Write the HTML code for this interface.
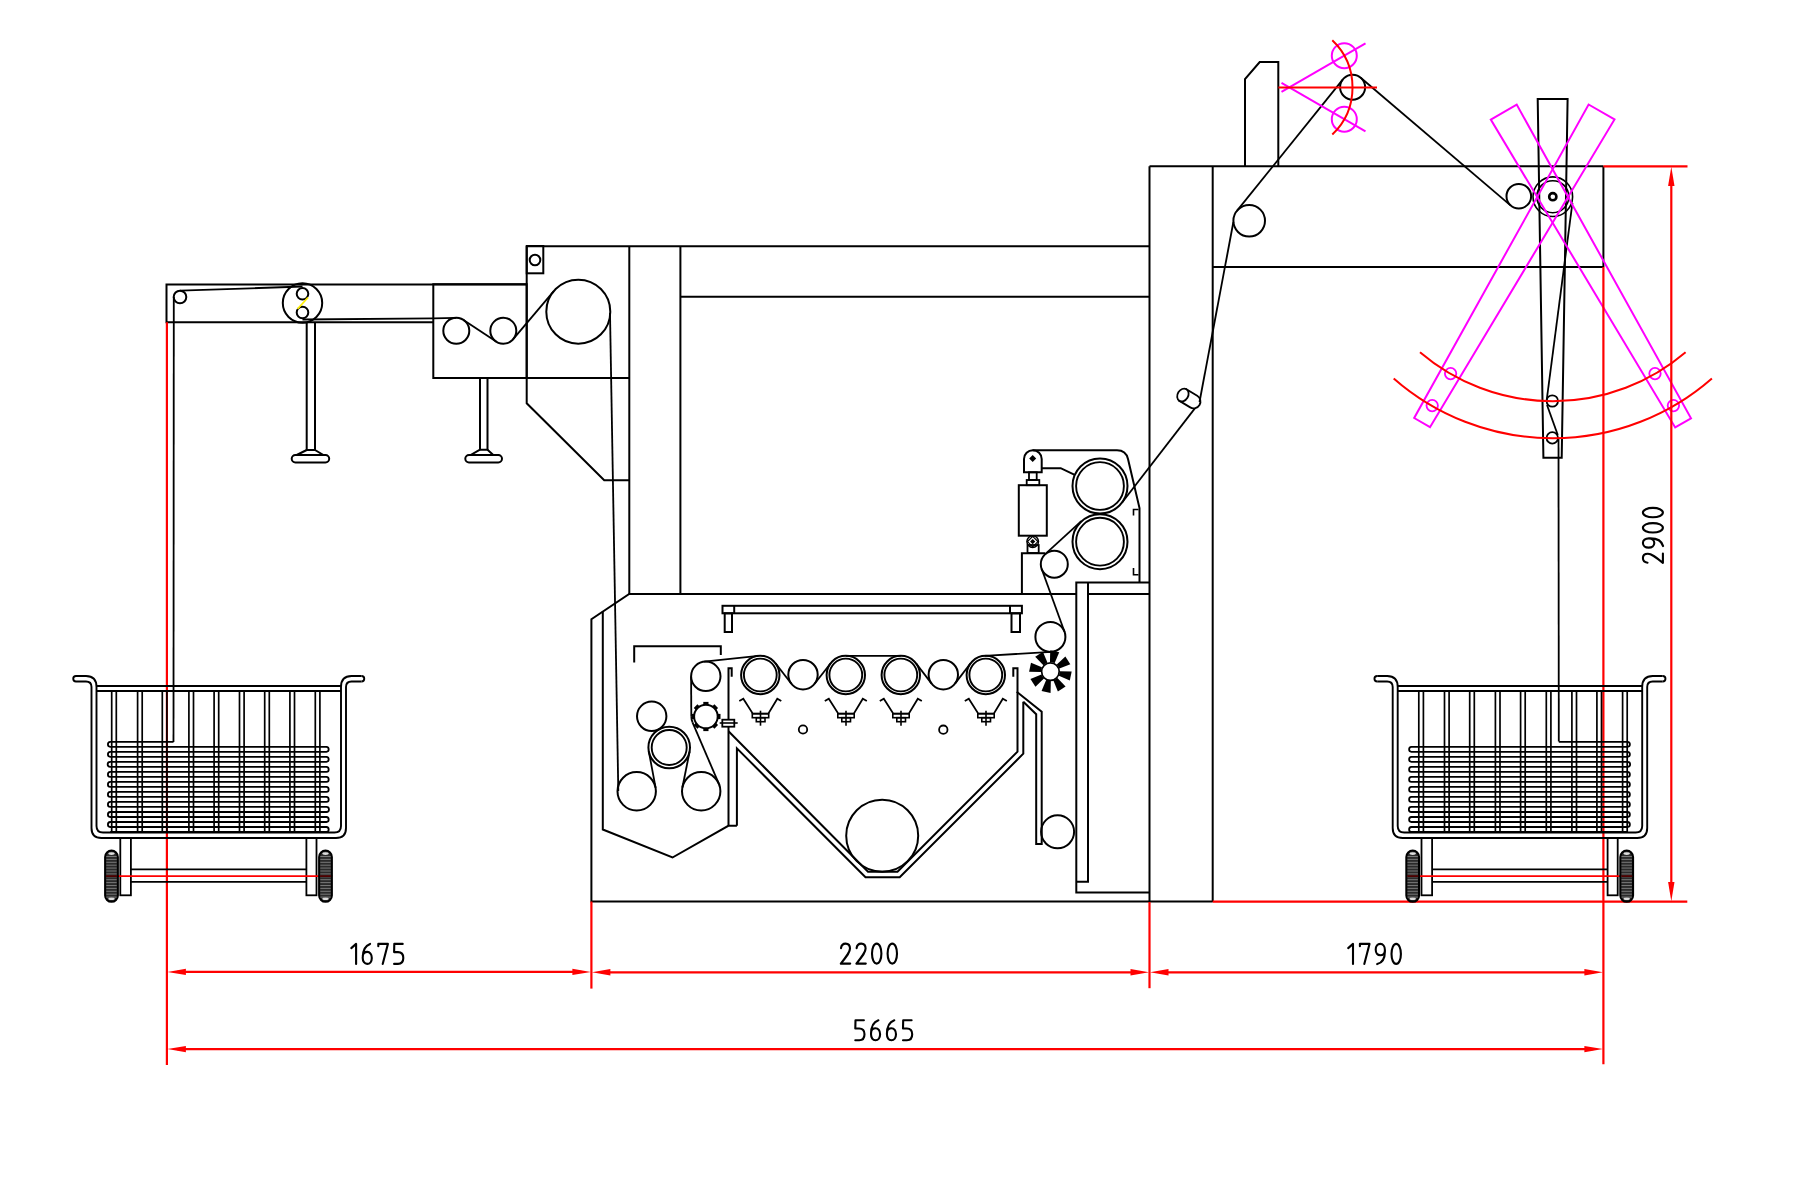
<!DOCTYPE html>
<html><head><meta charset="utf-8"><style>
html,body{margin:0;padding:0;background:#fff;width:1800px;height:1200px;overflow:hidden}
svg{display:block}
</style></head><body>
<svg width="1800" height="1200" viewBox="0 0 1800 1200" stroke-linecap="butt">
<defs><filter id="bl" x="0" y="0" width="1800" height="1200" filterUnits="userSpaceOnUse"><feGaussianBlur stdDeviation="0.5"/></filter></defs>
<rect width="1800" height="1200" fill="#fff"/>
<g filter="url(#bl)">
<path d="M433.3,322.3 L166.5,322.3 L166.5,284.5 L526.7,284.5" stroke="#000" stroke-width="2" fill="none" stroke-linejoin="miter"/>
<circle cx="180.0" cy="297.0" r="6.3" stroke="#000" stroke-width="2" fill="none"/>
<line x1="180.0" y1="290.7" x2="302.5" y2="286.5" stroke="#000" stroke-width="1.8"/>
<line x1="173.8" y1="297.0" x2="173.5" y2="742.0" stroke="#000" stroke-width="1.8"/>
<circle cx="302.5" cy="303.0" r="19.7" stroke="#000" stroke-width="2" fill="none"/>
<circle cx="302.5" cy="293.8" r="5.8" stroke="#000" stroke-width="2" fill="none"/>
<circle cx="302.5" cy="312.5" r="5.8" stroke="#000" stroke-width="2" fill="none"/>
<line x1="297.5" y1="309.0" x2="308.0" y2="297.5" stroke="#ffee00" stroke-width="1.8"/>
<line x1="302.5" y1="319.5" x2="433.3" y2="318.3" stroke="#000" stroke-width="1.8"/>
<path d="M306.7,322.3 L306.7,450.0 L315.0,450.0 L315.0,322.3" stroke="#000" stroke-width="2" fill="none" stroke-linejoin="miter"/>
<path d="M306.7,450.0 L296.7,455.0 L323.3,455.0 L315.0,450.0" stroke="#000" stroke-width="2" fill="none" stroke-linejoin="miter"/>
<rect x="291.7" y="455" width="37.5" height="7.5" rx="3.7" stroke="#000" stroke-width="2" fill="none"/>

<rect x="433.3" y="284.2" width="93.4" height="93.8" stroke="#000" stroke-width="2" fill="none"/>
<circle cx="456.3" cy="330.8" r="13.0" stroke="#000" stroke-width="2" fill="none"/>
<circle cx="503.3" cy="330.8" r="13.0" stroke="#000" stroke-width="2" fill="none"/>
<line x1="433.3" y1="318.3" x2="456.3" y2="317.8" stroke="#000" stroke-width="1.8"/>
<line x1="463.5" y1="320.0" x2="496.1" y2="341.6" stroke="#000" stroke-width="1.8"/>
<line x1="513.2" y1="339.2" x2="553.8" y2="291.1" stroke="#000" stroke-width="1.8"/>
<path d="M480.0,378.0 L480.0,449.7 L487.5,449.7 L487.5,378.0" stroke="#000" stroke-width="2" fill="none" stroke-linejoin="miter"/>
<path d="M480.0,449.7 L470.8,455.0 L493.3,455.0 L487.5,449.7" stroke="#000" stroke-width="2" fill="none" stroke-linejoin="miter"/>
<rect x="465.3" y="455" width="36.7" height="7.5" rx="3.7" stroke="#000" stroke-width="2" fill="none"/>
<line x1="526.7" y1="246.3" x2="1149.5" y2="246.3" stroke="#000" stroke-width="2"/>
<path d="M526.7,246.0 L526.7,403.3 L604.2,480.3 L629.5,480.3" stroke="#000" stroke-width="2" fill="none" stroke-linejoin="miter"/>
<line x1="433.3" y1="378.0" x2="629.5" y2="378.0" stroke="#000" stroke-width="2"/>
<rect x="526.7" y="246.0" width="16.6" height="27.3" stroke="#000" stroke-width="2" fill="none"/>
<circle cx="535.0" cy="260.0" r="5.3" stroke="#000" stroke-width="2" fill="none"/>
<circle cx="578.3" cy="311.7" r="32.0" stroke="#000" stroke-width="2" fill="none"/>
<line x1="610.0" y1="313.0" x2="618.3" y2="791.0" stroke="#000" stroke-width="1.8"/>
<line x1="629.3" y1="246.0" x2="629.3" y2="594.0" stroke="#000" stroke-width="2"/>
<line x1="680.4" y1="246.3" x2="680.4" y2="594.0" stroke="#000" stroke-width="2"/>
<line x1="680.0" y1="296.7" x2="1149.3" y2="296.7" stroke="#000" stroke-width="2"/>
<line x1="1149.5" y1="166.3" x2="1149.5" y2="902.0" stroke="#000" stroke-width="2"/>
<line x1="1212.7" y1="166.3" x2="1212.7" y2="902.0" stroke="#000" stroke-width="2"/>
<line x1="1149.5" y1="166.3" x2="1603.4" y2="166.3" stroke="#000" stroke-width="2"/>
<line x1="1212.7" y1="267.0" x2="1603.4" y2="267.0" stroke="#000" stroke-width="2"/>
<line x1="1603.4" y1="166.3" x2="1603.4" y2="267.0" stroke="#000" stroke-width="2"/>
<path d="M1245.0,166.3 L1245.0,79.2 L1259.7,62.0 L1278.3,62.0 L1278.3,166.3" stroke="#000" stroke-width="2" fill="none" stroke-linejoin="miter"/>
<path d="M1076.3,594.0 L629.2,594.0 L591.4,619.2 L591.4,901.6 L1212.7,901.6" stroke="#000" stroke-width="2" fill="none" stroke-linejoin="miter"/>
<line x1="1087.5" y1="594.0" x2="1149.5" y2="594.0" stroke="#000" stroke-width="2"/>
<path d="M602.8,611.3 L602.8,829.5 L672.5,857.5 L728.3,825.8 L736.9,825.8" stroke="#000" stroke-width="2" fill="none" stroke-linejoin="miter"/>
<path d="M731.7,676.7 L731.7,668.3 L728.5,668.3 L728.5,825.8" stroke="#000" stroke-width="2" fill="none" stroke-linejoin="miter"/>
<path d="M728.5,731.3 L868.0,871.8 L897.5,871.8 L1017.5,751.6 L1017.5,668.3 L1013.3,668.3 L1013.3,676.7" stroke="#000" stroke-width="2" fill="none" stroke-linejoin="miter"/>
<path d="M736.9,825.8 L736.9,748.3 L865.5,877.3 L899.7,877.3 L1023.3,753.7 L1023.3,701.7" stroke="#000" stroke-width="2" fill="none" stroke-linejoin="miter"/>
<path d="M1016.7,691.7 L1041.7,711.7 L1041.7,843.9 L1036.2,843.9 L1036.2,714.2 L1023.3,701.7" stroke="#000" stroke-width="2" fill="none" stroke-linejoin="miter"/>
<path d="M1149.5,892.5 L1076.3,892.5 L1076.3,582.5 L1149.5,582.5" stroke="#000" stroke-width="2" fill="none" stroke-linejoin="miter"/>
<path d="M1076.3,881.8 L1088.0,881.8 L1088.0,582.5" stroke="#000" stroke-width="2" fill="none" stroke-linejoin="miter"/>
<rect x="722.5" y="605.8" width="299.4" height="7.5" stroke="#000" stroke-width="2" fill="none"/>
<line x1="734.2" y1="605.8" x2="734.2" y2="613.3" stroke="#000" stroke-width="2"/>
<line x1="1010.0" y1="605.8" x2="1010.0" y2="613.3" stroke="#000" stroke-width="2"/>
<rect x="724.7" y="613.3" width="7.3" height="18.7" stroke="#000" stroke-width="2" fill="none"/>
<rect x="1011.5" y="613.3" width="8.5" height="18.7" stroke="#000" stroke-width="2" fill="none"/>
<path d="M634.2,662.5 L634.2,646.3 L720.8,646.3 L720.8,655.0" stroke="#000" stroke-width="2" fill="none" stroke-linejoin="miter"/>

<circle cx="651.7" cy="716.3" r="14.7" stroke="#000" stroke-width="2" fill="none"/>
<circle cx="669.2" cy="747.5" r="20.8" stroke="#000" stroke-width="2" fill="none"/>
<circle cx="669.2" cy="747.5" r="17.5" stroke="#000" stroke-width="1.9" fill="none"/>
<circle cx="636.7" cy="791.3" r="19.2" stroke="#000" stroke-width="2" fill="none"/>
<circle cx="701.2" cy="791.3" r="19.2" stroke="#000" stroke-width="2" fill="none"/>
<circle cx="705.8" cy="676.3" r="14.7" stroke="#000" stroke-width="2" fill="none"/>
<circle cx="705.9" cy="716.5" r="11.8" stroke="#000" stroke-width="2" fill="none"/>
<rect x="-2.6" y="-14.6" width="5.2" height="3.2" fill="#000" transform="translate(705.9,716.5) rotate(0)"/>
<rect x="-2.6" y="-14.6" width="5.2" height="3.2" fill="#000" transform="translate(705.9,716.5) rotate(45)"/>
<rect x="-2.6" y="-14.6" width="5.2" height="3.2" fill="#000" transform="translate(705.9,716.5) rotate(90)"/>
<rect x="-2.6" y="-14.6" width="5.2" height="3.2" fill="#000" transform="translate(705.9,716.5) rotate(135)"/>
<rect x="-2.6" y="-14.6" width="5.2" height="3.2" fill="#000" transform="translate(705.9,716.5) rotate(180)"/>
<rect x="-2.6" y="-14.6" width="5.2" height="3.2" fill="#000" transform="translate(705.9,716.5) rotate(225)"/>
<rect x="-2.6" y="-14.6" width="5.2" height="3.2" fill="#000" transform="translate(705.9,716.5) rotate(270)"/>
<rect x="-2.6" y="-14.6" width="5.2" height="3.2" fill="#000" transform="translate(705.9,716.5) rotate(315)"/>
<rect x="722.3" y="719.7" width="12.0" height="7.0" stroke="#000" stroke-width="1.8" fill="#fff"/>
<line x1="719.7" y1="723.0" x2="737.7" y2="723.0" stroke="#000" stroke-width="1.6"/>
<circle cx="760.3" cy="675.0" r="19.2" stroke="#000" stroke-width="2" fill="none"/>
<circle cx="760.3" cy="675.0" r="16.4" stroke="#000" stroke-width="1.9" fill="none"/>
<circle cx="803.0" cy="674.7" r="14.7" stroke="#000" stroke-width="2" fill="none"/>
<circle cx="845.8" cy="675.0" r="19.2" stroke="#000" stroke-width="2" fill="none"/>
<circle cx="845.8" cy="675.0" r="16.4" stroke="#000" stroke-width="1.9" fill="none"/>
<circle cx="900.8" cy="675.0" r="19.2" stroke="#000" stroke-width="2" fill="none"/>
<circle cx="900.8" cy="675.0" r="16.4" stroke="#000" stroke-width="1.9" fill="none"/>
<circle cx="943.3" cy="674.7" r="14.7" stroke="#000" stroke-width="2" fill="none"/>
<circle cx="985.8" cy="675.0" r="19.2" stroke="#000" stroke-width="2" fill="none"/>
<circle cx="985.8" cy="675.0" r="16.4" stroke="#000" stroke-width="1.9" fill="none"/>
<circle cx="803.0" cy="729.5" r="4.2" stroke="#000" stroke-width="1.8" fill="none"/>
<circle cx="943.3" cy="729.7" r="4.2" stroke="#000" stroke-width="1.8" fill="none"/>
<path d="M739.3,701.0 L743.3,698.7 L752.8,713.7 L768.3,713.7 L777.3,698.7 L781.3,701.0" stroke="#000" stroke-width="1.8" fill="none" stroke-linejoin="miter"/>
<rect x="752.3" y="713.7" width="16.4" height="4.0" stroke="#000" stroke-width="1.6" fill="none"/>
<rect x="756.3" y="717.7" width="8.7" height="4.0" stroke="#000" stroke-width="1.6" fill="none"/>
<line x1="760.5" y1="710.7" x2="760.5" y2="725.7" stroke="#000" stroke-width="1.6"/>
<path d="M824.8,701.0 L828.8,698.7 L838.3,713.7 L853.8,713.7 L862.8,698.7 L866.8,701.0" stroke="#000" stroke-width="1.8" fill="none" stroke-linejoin="miter"/>
<rect x="837.8" y="713.7" width="16.4" height="4.0" stroke="#000" stroke-width="1.6" fill="none"/>
<rect x="841.8" y="717.7" width="8.7" height="4.0" stroke="#000" stroke-width="1.6" fill="none"/>
<line x1="846.0" y1="710.7" x2="846.0" y2="725.7" stroke="#000" stroke-width="1.6"/>
<path d="M879.8,701.0 L883.8,698.7 L893.3,713.7 L908.8,713.7 L917.8,698.7 L921.8,701.0" stroke="#000" stroke-width="1.8" fill="none" stroke-linejoin="miter"/>
<rect x="892.8" y="713.7" width="16.4" height="4.0" stroke="#000" stroke-width="1.6" fill="none"/>
<rect x="896.8" y="717.7" width="8.7" height="4.0" stroke="#000" stroke-width="1.6" fill="none"/>
<line x1="901.0" y1="710.7" x2="901.0" y2="725.7" stroke="#000" stroke-width="1.6"/>
<path d="M964.8,701.0 L968.8,698.7 L978.3,713.7 L993.8,713.7 L1002.8,698.7 L1006.8,701.0" stroke="#000" stroke-width="1.8" fill="none" stroke-linejoin="miter"/>
<rect x="977.8" y="713.7" width="16.4" height="4.0" stroke="#000" stroke-width="1.6" fill="none"/>
<rect x="981.8" y="717.7" width="8.7" height="4.0" stroke="#000" stroke-width="1.6" fill="none"/>
<line x1="986.0" y1="710.7" x2="986.0" y2="725.7" stroke="#000" stroke-width="1.6"/>
<circle cx="882.2" cy="835.7" r="36.0" stroke="#000" stroke-width="2" fill="none"/>
<circle cx="1057.6" cy="831.8" r="16.5" stroke="#000" stroke-width="2" fill="none"/>
<circle cx="1050.4" cy="636.9" r="15.0" stroke="#000" stroke-width="2" fill="none"/>
<circle cx="1050.4" cy="671.6" r="8.8" stroke="#000" stroke-width="1.7" fill="none"/>
<path d="M-2.4,-9.2 L2.4,-9.2 L4.6,-20.8 L-4.6,-20.8 Z" fill="#000" transform="translate(1050.4,671.6) rotate(12)"/>
<path d="M-2.4,-9.2 L2.4,-9.2 L4.6,-20.8 L-4.6,-20.8 Z" fill="#000" transform="translate(1050.4,671.6) rotate(57)"/>
<path d="M-2.4,-9.2 L2.4,-9.2 L4.6,-20.8 L-4.6,-20.8 Z" fill="#000" transform="translate(1050.4,671.6) rotate(102)"/>
<path d="M-2.4,-9.2 L2.4,-9.2 L4.6,-20.8 L-4.6,-20.8 Z" fill="#000" transform="translate(1050.4,671.6) rotate(147)"/>
<path d="M-2.4,-9.2 L2.4,-9.2 L4.6,-20.8 L-4.6,-20.8 Z" fill="#000" transform="translate(1050.4,671.6) rotate(192)"/>
<path d="M-2.4,-9.2 L2.4,-9.2 L4.6,-20.8 L-4.6,-20.8 Z" fill="#000" transform="translate(1050.4,671.6) rotate(237)"/>
<path d="M-2.4,-9.2 L2.4,-9.2 L4.6,-20.8 L-4.6,-20.8 Z" fill="#000" transform="translate(1050.4,671.6) rotate(282)"/>
<path d="M-2.4,-9.2 L2.4,-9.2 L4.6,-20.8 L-4.6,-20.8 Z" fill="#000" transform="translate(1050.4,671.6) rotate(327)"/>
<line x1="655.6" y1="787.8" x2="648.8" y2="751.3" stroke="#000" stroke-width="1.8"/>
<line x1="689.6" y1="751.6" x2="682.4" y2="787.5" stroke="#000" stroke-width="1.8"/>
<line x1="718.8" y1="783.7" x2="692.5" y2="722.3" stroke="#000" stroke-width="1.8"/>
<line x1="691.3" y1="716.6" x2="691.1" y2="676.4" stroke="#000" stroke-width="1.8"/>
<path d="M691.3,716.5 A14.6,14.6 0 0 0 692.6,722.5" stroke="#000" stroke-width="1.8" fill="none" />
<line x1="704.2" y1="661.7" x2="758.3" y2="655.9" stroke="#000" stroke-width="1.8"/>
<line x1="775.5" y1="663.2" x2="791.4" y2="683.7" stroke="#000" stroke-width="1.8"/>
<line x1="814.6" y1="683.8" x2="830.7" y2="663.2" stroke="#000" stroke-width="1.8"/>
<line x1="845.8" y1="655.8" x2="900.8" y2="655.8" stroke="#000" stroke-width="1.8"/>
<line x1="916.0" y1="663.3" x2="931.6" y2="683.6" stroke="#000" stroke-width="1.8"/>
<line x1="955.0" y1="683.6" x2="970.6" y2="663.3" stroke="#000" stroke-width="1.8"/>
<line x1="984.7" y1="655.8" x2="1051.3" y2="651.9" stroke="#000" stroke-width="1.8"/>
<line x1="1064.5" y1="631.8" x2="1041.6" y2="568.8" stroke="#000" stroke-width="1.8"/>
<circle cx="1100.0" cy="486.0" r="27.5" stroke="#000" stroke-width="2" fill="none"/>
<circle cx="1100.0" cy="486.0" r="23.9" stroke="#000" stroke-width="1.9" fill="none"/>
<circle cx="1100.0" cy="541.7" r="27.5" stroke="#000" stroke-width="2" fill="none"/>
<circle cx="1100.0" cy="541.7" r="23.9" stroke="#000" stroke-width="1.9" fill="none"/>
<circle cx="1054.3" cy="564.2" r="13.5" stroke="#000" stroke-width="2" fill="none"/>
<rect x="1018.8" y="485.2" width="28.0" height="50.5" stroke="#000" stroke-width="2" fill="none"/>
<rect x="1026.7" y="480.0" width="12.6" height="5.2" stroke="#000" stroke-width="1.8" fill="none"/>
<rect x="1029.0" y="472.3" width="7.7" height="7.7" stroke="#000" stroke-width="1.8" fill="none"/>
<path d="M1024,472.3 L1024,459 A8.85,8.85 0 0 1 1041.7,459 L1041.7,472.3 Z" stroke="#000" stroke-width="2" fill="none" />
<path d="M1032.7,455 L1036.2,458.5 L1032.7,462 L1029.2,458.5 Z" fill="#000"/>
<path d="M1032.7,450.2 L1117,450.2 Q1126,450.2 1128,459 L1139.5,508 L1139.5,582.5" stroke="#000" stroke-width="2" fill="none" />
<path d="M1041.7,468.2 L1060.7,468.2 L1074.2,474.7" stroke="#000" stroke-width="2" fill="none" stroke-linejoin="miter"/>
<circle cx="1032.7" cy="541.6" r="5.8" stroke="#000" stroke-width="1.5" fill="none"/>
<path d="M1032.7,536.4 L1037.9,541.6 L1032.7,546.8 L1027.5,541.6 Z" stroke="#000" stroke-width="1.2" fill="none"/><path d="M1032.7,539 L1035.3,541.6 L1032.7,544.2 L1030.1,541.6 Z" fill="#000"/>
<rect x="1027.5" y="545.0" width="11.2" height="8.0" stroke="#000" stroke-width="1.8" fill="none"/>
<path d="M1021.9,594.0 L1021.9,553.3 L1045.0,553.3" stroke="#000" stroke-width="2" fill="none" stroke-linejoin="miter"/>
<path d="M1133.5,515.5 L1133.5,509.5 L1138.5,509.5" stroke="#000" stroke-width="1.6" fill="none" stroke-linejoin="miter"/>
<path d="M1133.5,568.0 L1133.5,574.7 L1138.5,574.7" stroke="#000" stroke-width="1.6" fill="none" stroke-linejoin="miter"/>
<line x1="1045.2" y1="554.2" x2="1081.3" y2="521.2" stroke="#000" stroke-width="1.8"/>
<line x1="1121.9" y1="502.8" x2="1199.9" y2="401.9" stroke="#000" stroke-width="1.8"/>
<g transform="translate(1188.3,398.3) rotate(31)"><path d="M-6.3,-6.8 L6.3,-6.8 A6.8,6.8 0 0 1 6.3,6.8 L-6.3,6.8 Z" stroke="#000" stroke-width="1.8" fill="#fff"/><ellipse cx="-6.3" cy="0" rx="5.3" ry="6.8" stroke="#000" stroke-width="1.8" fill="#fff"/></g>
<line x1="1199.5" y1="402.0" x2="1233.4" y2="222.0" stroke="#000" stroke-width="1.8"/>
<circle cx="1249.2" cy="220.8" r="15.8" stroke="#000" stroke-width="2" fill="none"/>
<line x1="1236.9" y1="210.9" x2="1342.9" y2="79.4" stroke="#000" stroke-width="1.8"/>
<circle cx="1352.6" cy="87.2" r="12.5" stroke="#000" stroke-width="2" fill="none"/>
<line x1="1360.7" y1="77.7" x2="1510.8" y2="205.6" stroke="#000" stroke-width="1.8"/>
<circle cx="1518.8" cy="196.2" r="12.3" stroke="#000" stroke-width="2" fill="none"/>
<path d="M1537.7,98.9 L1567.6,98.9 L1561.7,457.7 L1543.4,457.7Z" stroke="#000" stroke-width="2" fill="none" stroke-linejoin="miter"/>
<circle cx="1552.8" cy="196.7" r="19.8" stroke="#000" stroke-width="1.6" fill="none"/>
<circle cx="1552.8" cy="196.7" r="16.0" stroke="#000" stroke-width="1.6" fill="none"/>
<circle cx="1552.8" cy="196.7" r="3.6" stroke="#000" stroke-width="2.6" fill="none"/>
<circle cx="1552.3" cy="401.0" r="5.7" stroke="#000" stroke-width="1.8" fill="none"/>
<circle cx="1552.3" cy="437.9" r="5.7" stroke="#000" stroke-width="1.8" fill="none"/>
<line x1="1572.4" y1="203.0" x2="1546.7" y2="400.0" stroke="#000" stroke-width="1.8"/>
<line x1="1547.0" y1="405.0" x2="1557.8" y2="435.0" stroke="#000" stroke-width="1.8"/>
<line x1="1558.5" y1="438.0" x2="1558.8" y2="741.5" stroke="#000" stroke-width="1.8"/>
<path d="M1490.8,119.6 L1516.7,104.6 L1691.0,418.3 L1675.2,427.4Z" stroke="#ff00ff" stroke-width="2" fill="none" stroke-linejoin="miter"/>
<circle cx="1655.0" cy="373.6" r="5.7" stroke="#ff00ff" stroke-width="1.8" fill="none"/>
<circle cx="1673.4" cy="405.6" r="5.7" stroke="#ff00ff" stroke-width="1.8" fill="none"/>
<path d="M1588.6,104.5 L1614.5,119.4 L1430.0,427.2 L1414.2,418.0Z" stroke="#ff00ff" stroke-width="2" fill="none" stroke-linejoin="miter"/>
<circle cx="1450.6" cy="373.6" r="5.7" stroke="#ff00ff" stroke-width="1.8" fill="none"/>
<circle cx="1432.2" cy="405.6" r="5.7" stroke="#ff00ff" stroke-width="1.8" fill="none"/>
<path d="M1685.6,352.2 A204.5,204.5 0 0 1 1420.0,352.2" stroke="#ff0000" stroke-width="2" fill="none" />
<path d="M1711.9,378.4 A241.5,241.5 0 0 1 1393.7,378.4" stroke="#ff0000" stroke-width="2" fill="none" />
<circle cx="1344.3" cy="55.7" r="12.5" stroke="#ff00ff" stroke-width="2" fill="none"/>
<line x1="1281.5" y1="91.9" x2="1365.5" y2="43.4" stroke="#ff00ff" stroke-width="2"/>
<circle cx="1344.3" cy="119.2" r="12.5" stroke="#ff00ff" stroke-width="2" fill="none"/>
<line x1="1281.5" y1="82.9" x2="1365.5" y2="131.4" stroke="#ff00ff" stroke-width="2"/>
<line x1="1278.4" y1="87.4" x2="1377.0" y2="87.4" stroke="#ff0000" stroke-width="2"/>
<path d="M1332.3,40.3 A65.0,65.0 0 0 1 1332.3,134.5" stroke="#ff0000" stroke-width="2" fill="none" />
<line x1="1603.4" y1="267.0" x2="1603.4" y2="1064.2" stroke="#ff0000" stroke-width="2.2"/>
<line x1="1603.4" y1="166.3" x2="1687.5" y2="166.3" stroke="#ff0000" stroke-width="2.2"/>
<line x1="1212.7" y1="901.6" x2="1687.3" y2="901.6" stroke="#ff0000" stroke-width="2.2"/>
<line x1="1671.3" y1="180.0" x2="1671.3" y2="888.0" stroke="#ff0000" stroke-width="2.2"/>
<path d="M1671.3,166.8 L1674.5,186 L1668.1,186 Z" fill="#ff0000"/>
<path d="M1671.3,901.2 L1674.5,882 L1668.1,882 Z" fill="#ff0000"/>
<path d="M0.2,-15.4 C0.6,-18.6 2.6,-20 4.8,-20 C7.4,-20 9.2,-18 9.2,-15 C9.2,-11.5 6.5,-8 0,0 L9.4,0" transform="translate(1662.9,562.9) rotate(-90)" stroke="#000" stroke-width="2.1" fill="none" stroke-linecap="round" stroke-linejoin="round"/>
<path d="M9.3,-14 C9.3,-17.6 7.4,-20 4.7,-20 C2,-20 0.1,-17.6 0.1,-14.3 C0.1,-10.9 2,-8.6 4.7,-8.6 C7.4,-8.6 9.3,-10.9 9.3,-14 L9.3,-12.5 C9.3,-5.5 6,-1 1.6,0.2" transform="translate(1662.9,547.7) rotate(-90)" stroke="#000" stroke-width="2.1" fill="none" stroke-linecap="round" stroke-linejoin="round"/>
<path d="M4.7,-20 C7.5,-20 9.4,-15.5 9.4,-10 C9.4,-4.5 7.5,0 4.7,0 C1.9,0 0,-4.5 0,-10 C0,-15.5 1.9,-20 4.7,-20 Z" transform="translate(1662.9,532.5) rotate(-90)" stroke="#000" stroke-width="2.1" fill="none" stroke-linecap="round" stroke-linejoin="round"/>
<path d="M4.7,-20 C7.5,-20 9.4,-15.5 9.4,-10 C9.4,-4.5 7.5,0 4.7,0 C1.9,0 0,-4.5 0,-10 C0,-15.5 1.9,-20 4.7,-20 Z" transform="translate(1662.9,517.3) rotate(-90)" stroke="#000" stroke-width="2.1" fill="none" stroke-linecap="round" stroke-linejoin="round"/>
<line x1="166.9" y1="322.3" x2="166.9" y2="1065.0" stroke="#ff0000" stroke-width="2.2"/>
<line x1="591.4" y1="901.5" x2="591.4" y2="988.6" stroke="#ff0000" stroke-width="2.2"/>
<line x1="1149.5" y1="902.0" x2="1149.5" y2="988.2" stroke="#ff0000" stroke-width="2.2"/>
<line x1="176.9" y1="971.9" x2="581.4" y2="971.9" stroke="#ff0000" stroke-width="2.2"/>
<path d="M167.4,971.9 L185.9,968.7 L185.9,975.1 Z" fill="#ff0000"/>
<path d="M590.9,971.9 L572.4,968.7 L572.4,975.1 Z" fill="#ff0000"/>
<line x1="601.4" y1="972.3" x2="1139.5" y2="972.3" stroke="#ff0000" stroke-width="2.2"/>
<path d="M591.9,972.3 L610.4,969.1 L610.4,975.5 Z" fill="#ff0000"/>
<path d="M1149.0,972.3 L1130.5,969.1 L1130.5,975.5 Z" fill="#ff0000"/>
<line x1="1159.5" y1="972.3" x2="1593.4" y2="972.3" stroke="#ff0000" stroke-width="2.2"/>
<path d="M1150.0,972.3 L1168.5,969.1 L1168.5,975.5 Z" fill="#ff0000"/>
<path d="M1602.9,972.3 L1584.4,969.1 L1584.4,975.5 Z" fill="#ff0000"/>
<line x1="176.9" y1="1049.1" x2="1593.4" y2="1049.1" stroke="#ff0000" stroke-width="2.2"/>
<path d="M167.4,1049.1 L185.9,1045.9 L185.9,1052.3 Z" fill="#ff0000"/>
<path d="M1602.9,1049.1 L1584.4,1045.9 L1584.4,1052.3 Z" fill="#ff0000"/>
<path d="M76.0,676 L86.0,676 Q96.5,676 96.5,687 L96.5,826 Q96.5,832.5 103.0,832.5 L334.5,832.5 Q341.0,832.5 341.0,826 L341.0,687 Q341.0,676 351.5,676 L361.5,676" stroke="#000" stroke-width="1.9" fill="none" />
<path d="M76.0,681.5 L86.0,681.5 Q91.5,681.5 91.5,687 L91.5,828 Q91.5,838 101.5,838 L336.0,838 Q346.0,838 346.0,828 L346.0,687 Q346.0,681.5 351.5,681.5 L361.5,681.5" stroke="#000" stroke-width="1.9" fill="none" />
<path d="M76.0,676 A2.75,2.75 0 0 0 76.0,681.5" stroke="#000" stroke-width="1.9" fill="none" />
<path d="M361.5,676 A2.75,2.75 0 0 1 361.5,681.5" stroke="#000" stroke-width="1.9" fill="none" />
<line x1="96.5" y1="686.0" x2="341.0" y2="686.0" stroke="#000" stroke-width="1.9"/>
<line x1="96.5" y1="691.0" x2="341.0" y2="691.0" stroke="#000" stroke-width="1.9"/>
<line x1="111.7" y1="691.0" x2="111.7" y2="832.5" stroke="#000" stroke-width="1.7"/>
<line x1="116.3" y1="691.0" x2="116.3" y2="832.5" stroke="#000" stroke-width="1.7"/>
<line x1="137.6" y1="691.0" x2="137.6" y2="832.5" stroke="#000" stroke-width="1.7"/>
<line x1="142.2" y1="691.0" x2="142.2" y2="832.5" stroke="#000" stroke-width="1.7"/>
<line x1="162.3" y1="691.0" x2="162.3" y2="832.5" stroke="#000" stroke-width="1.7"/>
<line x1="166.9" y1="691.0" x2="166.9" y2="832.5" stroke="#000" stroke-width="1.7"/>
<line x1="188.9" y1="691.0" x2="188.9" y2="832.5" stroke="#000" stroke-width="1.7"/>
<line x1="193.5" y1="691.0" x2="193.5" y2="832.5" stroke="#000" stroke-width="1.7"/>
<line x1="214.1" y1="691.0" x2="214.1" y2="832.5" stroke="#000" stroke-width="1.7"/>
<line x1="218.7" y1="691.0" x2="218.7" y2="832.5" stroke="#000" stroke-width="1.7"/>
<line x1="239.5" y1="691.0" x2="239.5" y2="832.5" stroke="#000" stroke-width="1.7"/>
<line x1="244.1" y1="691.0" x2="244.1" y2="832.5" stroke="#000" stroke-width="1.7"/>
<line x1="264.7" y1="691.0" x2="264.7" y2="832.5" stroke="#000" stroke-width="1.7"/>
<line x1="269.3" y1="691.0" x2="269.3" y2="832.5" stroke="#000" stroke-width="1.7"/>
<line x1="289.9" y1="691.0" x2="289.9" y2="832.5" stroke="#000" stroke-width="1.7"/>
<line x1="294.5" y1="691.0" x2="294.5" y2="832.5" stroke="#000" stroke-width="1.7"/>
<line x1="315.3" y1="691.0" x2="315.3" y2="832.5" stroke="#000" stroke-width="1.7"/>
<line x1="319.9" y1="691.0" x2="319.9" y2="832.5" stroke="#000" stroke-width="1.7"/>
<path d="M173.5,741.8 L110.2,741.8 A2.51,2.51 0 0 0 110.2,746.8 L326.4,746.8 A2.51,2.51 0 0 1 326.4,751.8 L110.2,751.8 A2.51,2.51 0 0 0 110.2,756.8 L326.4,756.8 A2.51,2.51 0 0 1 326.4,761.8 L110.2,761.8 A2.51,2.51 0 0 0 110.2,766.9 L326.4,766.9 A2.51,2.51 0 0 1 326.4,771.9 L110.2,771.9 A2.51,2.51 0 0 0 110.2,776.9 L326.4,776.9 A2.51,2.51 0 0 1 326.4,781.9 L110.2,781.9 A2.51,2.51 0 0 0 110.2,786.9 L326.4,786.9 A2.51,2.51 0 0 1 326.4,791.9 L110.2,791.9 A2.51,2.51 0 0 0 110.2,796.9 L326.4,796.9 A2.51,2.51 0 0 1 326.4,801.9 L110.2,801.9 A2.51,2.51 0 0 0 110.2,806.9 L326.4,806.9 A2.51,2.51 0 0 1 326.4,812.0 L110.2,812.0 A2.51,2.51 0 0 0 110.2,817.0 L326.4,817.0 A2.51,2.51 0 0 1 326.4,822.0 L110.2,822.0 A2.51,2.51 0 0 0 110.2,827.0 L326.4,827.0 A2.51,2.51 0 0 1 326.4,832.0 L110.2,832.0" stroke="#000" stroke-width="1.8" fill="none" />
<rect x="120.3" y="838.0" width="10.6" height="57.3" stroke="#000" stroke-width="1.8" fill="none"/>
<rect x="306.4" y="838.0" width="10.1" height="57.3" stroke="#000" stroke-width="1.8" fill="none"/>
<line x1="130.9" y1="869.4" x2="306.4" y2="869.4" stroke="#000" stroke-width="1.8"/>
<line x1="130.9" y1="881.8" x2="306.4" y2="881.8" stroke="#000" stroke-width="1.8"/>
<line x1="105.0" y1="876.1" x2="332.3" y2="876.1" stroke="#ff0000" stroke-width="1.8"/>
<rect x="105.1" y="850.6" width="12.8" height="51.2" rx="6.4" ry="6.4" fill="#2a2a2a" stroke="#000" stroke-width="2"/>
<ellipse cx="111.5" cy="853.6" rx="3.2" ry="1.3" fill="#ddd"/>
<ellipse cx="111.5" cy="898.8" rx="3.2" ry="1.3" fill="#ddd"/>
<line x1="106.3" y1="856.5" x2="116.7" y2="856.5" stroke="#9a9a9a" stroke-width="0.7"/>
<line x1="106.3" y1="859.4" x2="116.7" y2="859.4" stroke="#9a9a9a" stroke-width="0.7"/>
<line x1="106.3" y1="862.3" x2="116.7" y2="862.3" stroke="#9a9a9a" stroke-width="0.7"/>
<line x1="106.3" y1="865.2" x2="116.7" y2="865.2" stroke="#9a9a9a" stroke-width="0.7"/>
<line x1="106.3" y1="868.1" x2="116.7" y2="868.1" stroke="#9a9a9a" stroke-width="0.7"/>
<line x1="106.3" y1="871.0" x2="116.7" y2="871.0" stroke="#9a9a9a" stroke-width="0.7"/>
<line x1="106.3" y1="873.9" x2="116.7" y2="873.9" stroke="#9a9a9a" stroke-width="0.7"/>
<line x1="106.3" y1="876.8" x2="116.7" y2="876.8" stroke="#9a9a9a" stroke-width="0.7"/>
<line x1="106.3" y1="879.7" x2="116.7" y2="879.7" stroke="#9a9a9a" stroke-width="0.7"/>
<line x1="106.3" y1="882.6" x2="116.7" y2="882.6" stroke="#9a9a9a" stroke-width="0.7"/>
<line x1="106.3" y1="885.5" x2="116.7" y2="885.5" stroke="#9a9a9a" stroke-width="0.7"/>
<line x1="106.3" y1="888.4" x2="116.7" y2="888.4" stroke="#9a9a9a" stroke-width="0.7"/>
<line x1="106.3" y1="891.3" x2="116.7" y2="891.3" stroke="#9a9a9a" stroke-width="0.7"/>
<line x1="106.3" y1="894.2" x2="116.7" y2="894.2" stroke="#9a9a9a" stroke-width="0.7"/>
<line x1="106.3" y1="897.1" x2="116.7" y2="897.1" stroke="#9a9a9a" stroke-width="0.7"/>
<line x1="106.0" y1="876.1" x2="117.0" y2="876.1" stroke="#500000" stroke-width="1.8"/>
<rect x="319.1" y="850.6" width="12.8" height="51.2" rx="6.4" ry="6.4" fill="#2a2a2a" stroke="#000" stroke-width="2"/>
<ellipse cx="325.5" cy="853.6" rx="3.2" ry="1.3" fill="#ddd"/>
<ellipse cx="325.5" cy="898.8" rx="3.2" ry="1.3" fill="#ddd"/>
<line x1="320.3" y1="856.5" x2="330.7" y2="856.5" stroke="#9a9a9a" stroke-width="0.7"/>
<line x1="320.3" y1="859.4" x2="330.7" y2="859.4" stroke="#9a9a9a" stroke-width="0.7"/>
<line x1="320.3" y1="862.3" x2="330.7" y2="862.3" stroke="#9a9a9a" stroke-width="0.7"/>
<line x1="320.3" y1="865.2" x2="330.7" y2="865.2" stroke="#9a9a9a" stroke-width="0.7"/>
<line x1="320.3" y1="868.1" x2="330.7" y2="868.1" stroke="#9a9a9a" stroke-width="0.7"/>
<line x1="320.3" y1="871.0" x2="330.7" y2="871.0" stroke="#9a9a9a" stroke-width="0.7"/>
<line x1="320.3" y1="873.9" x2="330.7" y2="873.9" stroke="#9a9a9a" stroke-width="0.7"/>
<line x1="320.3" y1="876.8" x2="330.7" y2="876.8" stroke="#9a9a9a" stroke-width="0.7"/>
<line x1="320.3" y1="879.7" x2="330.7" y2="879.7" stroke="#9a9a9a" stroke-width="0.7"/>
<line x1="320.3" y1="882.6" x2="330.7" y2="882.6" stroke="#9a9a9a" stroke-width="0.7"/>
<line x1="320.3" y1="885.5" x2="330.7" y2="885.5" stroke="#9a9a9a" stroke-width="0.7"/>
<line x1="320.3" y1="888.4" x2="330.7" y2="888.4" stroke="#9a9a9a" stroke-width="0.7"/>
<line x1="320.3" y1="891.3" x2="330.7" y2="891.3" stroke="#9a9a9a" stroke-width="0.7"/>
<line x1="320.3" y1="894.2" x2="330.7" y2="894.2" stroke="#9a9a9a" stroke-width="0.7"/>
<line x1="320.3" y1="897.1" x2="330.7" y2="897.1" stroke="#9a9a9a" stroke-width="0.7"/>
<line x1="320.0" y1="876.1" x2="331.0" y2="876.1" stroke="#500000" stroke-width="1.8"/>
<path d="M1377.2,676 L1387.2,676 Q1397.7,676 1397.7,687 L1397.7,826 Q1397.7,832.5 1404.2,832.5 L1635.7,832.5 Q1642.2,832.5 1642.2,826 L1642.2,687 Q1642.2,676 1652.7,676 L1662.7,676" stroke="#000" stroke-width="1.9" fill="none" />
<path d="M1377.2,681.5 L1387.2,681.5 Q1392.7,681.5 1392.7,687 L1392.7,828 Q1392.7,838 1402.7,838 L1637.2,838 Q1647.2,838 1647.2,828 L1647.2,687 Q1647.2,681.5 1652.7,681.5 L1662.7,681.5" stroke="#000" stroke-width="1.9" fill="none" />
<path d="M1377.2,676 A2.75,2.75 0 0 0 1377.2,681.5" stroke="#000" stroke-width="1.9" fill="none" />
<path d="M1662.7,676 A2.75,2.75 0 0 1 1662.7,681.5" stroke="#000" stroke-width="1.9" fill="none" />
<line x1="1397.7" y1="686.0" x2="1642.2" y2="686.0" stroke="#000" stroke-width="1.9"/>
<line x1="1397.7" y1="691.0" x2="1642.2" y2="691.0" stroke="#000" stroke-width="1.9"/>
<line x1="1418.8" y1="691.0" x2="1418.8" y2="832.5" stroke="#000" stroke-width="1.7"/>
<line x1="1423.4" y1="691.0" x2="1423.4" y2="832.5" stroke="#000" stroke-width="1.7"/>
<line x1="1444.5" y1="691.0" x2="1444.5" y2="832.5" stroke="#000" stroke-width="1.7"/>
<line x1="1449.1" y1="691.0" x2="1449.1" y2="832.5" stroke="#000" stroke-width="1.7"/>
<line x1="1469.7" y1="691.0" x2="1469.7" y2="832.5" stroke="#000" stroke-width="1.7"/>
<line x1="1474.3" y1="691.0" x2="1474.3" y2="832.5" stroke="#000" stroke-width="1.7"/>
<line x1="1495.4" y1="691.0" x2="1495.4" y2="832.5" stroke="#000" stroke-width="1.7"/>
<line x1="1500.0" y1="691.0" x2="1500.0" y2="832.5" stroke="#000" stroke-width="1.7"/>
<line x1="1520.6" y1="691.0" x2="1520.6" y2="832.5" stroke="#000" stroke-width="1.7"/>
<line x1="1525.2" y1="691.0" x2="1525.2" y2="832.5" stroke="#000" stroke-width="1.7"/>
<line x1="1546.3" y1="691.0" x2="1546.3" y2="832.5" stroke="#000" stroke-width="1.7"/>
<line x1="1550.9" y1="691.0" x2="1550.9" y2="832.5" stroke="#000" stroke-width="1.7"/>
<line x1="1571.9" y1="691.0" x2="1571.9" y2="832.5" stroke="#000" stroke-width="1.7"/>
<line x1="1576.5" y1="691.0" x2="1576.5" y2="832.5" stroke="#000" stroke-width="1.7"/>
<line x1="1596.9" y1="691.0" x2="1596.9" y2="832.5" stroke="#000" stroke-width="1.7"/>
<line x1="1601.5" y1="691.0" x2="1601.5" y2="832.5" stroke="#000" stroke-width="1.7"/>
<line x1="1622.6" y1="691.0" x2="1622.6" y2="832.5" stroke="#000" stroke-width="1.7"/>
<line x1="1627.2" y1="691.0" x2="1627.2" y2="832.5" stroke="#000" stroke-width="1.7"/>
<path d="M1558.8,741.8 L1627.6,741.8 A2.51,2.51 0 0 1 1627.6,746.8 L1411.4,746.8 A2.51,2.51 0 0 0 1411.4,751.8 L1627.6,751.8 A2.51,2.51 0 0 1 1627.6,756.8 L1411.4,756.8 A2.51,2.51 0 0 0 1411.4,761.8 L1627.6,761.8 A2.51,2.51 0 0 1 1627.6,766.9 L1411.4,766.9 A2.51,2.51 0 0 0 1411.4,771.9 L1627.6,771.9 A2.51,2.51 0 0 1 1627.6,776.9 L1411.4,776.9 A2.51,2.51 0 0 0 1411.4,781.9 L1627.6,781.9 A2.51,2.51 0 0 1 1627.6,786.9 L1411.4,786.9 A2.51,2.51 0 0 0 1411.4,791.9 L1627.6,791.9 A2.51,2.51 0 0 1 1627.6,796.9 L1411.4,796.9 A2.51,2.51 0 0 0 1411.4,801.9 L1627.6,801.9 A2.51,2.51 0 0 1 1627.6,806.9 L1411.4,806.9 A2.51,2.51 0 0 0 1411.4,812.0 L1627.6,812.0 A2.51,2.51 0 0 1 1627.6,817.0 L1411.4,817.0 A2.51,2.51 0 0 0 1411.4,822.0 L1627.6,822.0 A2.51,2.51 0 0 1 1627.6,827.0 L1411.4,827.0 A2.51,2.51 0 0 0 1411.4,832.0 L1627.6,832.0" stroke="#000" stroke-width="1.8" fill="none" />
<rect x="1421.5" y="838.0" width="10.6" height="57.3" stroke="#000" stroke-width="1.8" fill="none"/>
<rect x="1607.6" y="838.0" width="10.1" height="57.3" stroke="#000" stroke-width="1.8" fill="none"/>
<line x1="1432.1" y1="869.4" x2="1607.6" y2="869.4" stroke="#000" stroke-width="1.8"/>
<line x1="1432.1" y1="881.8" x2="1607.6" y2="881.8" stroke="#000" stroke-width="1.8"/>
<line x1="1406.2" y1="876.1" x2="1633.5" y2="876.1" stroke="#ff0000" stroke-width="1.8"/>
<rect x="1406.3" y="850.6" width="12.8" height="51.2" rx="6.4" ry="6.4" fill="#2a2a2a" stroke="#000" stroke-width="2"/>
<ellipse cx="1412.7" cy="853.6" rx="3.2" ry="1.3" fill="#ddd"/>
<ellipse cx="1412.7" cy="898.8" rx="3.2" ry="1.3" fill="#ddd"/>
<line x1="1407.5" y1="856.5" x2="1417.9" y2="856.5" stroke="#9a9a9a" stroke-width="0.7"/>
<line x1="1407.5" y1="859.4" x2="1417.9" y2="859.4" stroke="#9a9a9a" stroke-width="0.7"/>
<line x1="1407.5" y1="862.3" x2="1417.9" y2="862.3" stroke="#9a9a9a" stroke-width="0.7"/>
<line x1="1407.5" y1="865.2" x2="1417.9" y2="865.2" stroke="#9a9a9a" stroke-width="0.7"/>
<line x1="1407.5" y1="868.1" x2="1417.9" y2="868.1" stroke="#9a9a9a" stroke-width="0.7"/>
<line x1="1407.5" y1="871.0" x2="1417.9" y2="871.0" stroke="#9a9a9a" stroke-width="0.7"/>
<line x1="1407.5" y1="873.9" x2="1417.9" y2="873.9" stroke="#9a9a9a" stroke-width="0.7"/>
<line x1="1407.5" y1="876.8" x2="1417.9" y2="876.8" stroke="#9a9a9a" stroke-width="0.7"/>
<line x1="1407.5" y1="879.7" x2="1417.9" y2="879.7" stroke="#9a9a9a" stroke-width="0.7"/>
<line x1="1407.5" y1="882.6" x2="1417.9" y2="882.6" stroke="#9a9a9a" stroke-width="0.7"/>
<line x1="1407.5" y1="885.5" x2="1417.9" y2="885.5" stroke="#9a9a9a" stroke-width="0.7"/>
<line x1="1407.5" y1="888.4" x2="1417.9" y2="888.4" stroke="#9a9a9a" stroke-width="0.7"/>
<line x1="1407.5" y1="891.3" x2="1417.9" y2="891.3" stroke="#9a9a9a" stroke-width="0.7"/>
<line x1="1407.5" y1="894.2" x2="1417.9" y2="894.2" stroke="#9a9a9a" stroke-width="0.7"/>
<line x1="1407.5" y1="897.1" x2="1417.9" y2="897.1" stroke="#9a9a9a" stroke-width="0.7"/>
<line x1="1407.2" y1="876.1" x2="1418.2" y2="876.1" stroke="#500000" stroke-width="1.8"/>
<rect x="1620.3" y="850.6" width="12.8" height="51.2" rx="6.4" ry="6.4" fill="#2a2a2a" stroke="#000" stroke-width="2"/>
<ellipse cx="1626.7" cy="853.6" rx="3.2" ry="1.3" fill="#ddd"/>
<ellipse cx="1626.7" cy="898.8" rx="3.2" ry="1.3" fill="#ddd"/>
<line x1="1621.5" y1="856.5" x2="1631.9" y2="856.5" stroke="#9a9a9a" stroke-width="0.7"/>
<line x1="1621.5" y1="859.4" x2="1631.9" y2="859.4" stroke="#9a9a9a" stroke-width="0.7"/>
<line x1="1621.5" y1="862.3" x2="1631.9" y2="862.3" stroke="#9a9a9a" stroke-width="0.7"/>
<line x1="1621.5" y1="865.2" x2="1631.9" y2="865.2" stroke="#9a9a9a" stroke-width="0.7"/>
<line x1="1621.5" y1="868.1" x2="1631.9" y2="868.1" stroke="#9a9a9a" stroke-width="0.7"/>
<line x1="1621.5" y1="871.0" x2="1631.9" y2="871.0" stroke="#9a9a9a" stroke-width="0.7"/>
<line x1="1621.5" y1="873.9" x2="1631.9" y2="873.9" stroke="#9a9a9a" stroke-width="0.7"/>
<line x1="1621.5" y1="876.8" x2="1631.9" y2="876.8" stroke="#9a9a9a" stroke-width="0.7"/>
<line x1="1621.5" y1="879.7" x2="1631.9" y2="879.7" stroke="#9a9a9a" stroke-width="0.7"/>
<line x1="1621.5" y1="882.6" x2="1631.9" y2="882.6" stroke="#9a9a9a" stroke-width="0.7"/>
<line x1="1621.5" y1="885.5" x2="1631.9" y2="885.5" stroke="#9a9a9a" stroke-width="0.7"/>
<line x1="1621.5" y1="888.4" x2="1631.9" y2="888.4" stroke="#9a9a9a" stroke-width="0.7"/>
<line x1="1621.5" y1="891.3" x2="1631.9" y2="891.3" stroke="#9a9a9a" stroke-width="0.7"/>
<line x1="1621.5" y1="894.2" x2="1631.9" y2="894.2" stroke="#9a9a9a" stroke-width="0.7"/>
<line x1="1621.5" y1="897.1" x2="1631.9" y2="897.1" stroke="#9a9a9a" stroke-width="0.7"/>
<line x1="1621.2" y1="876.1" x2="1632.2" y2="876.1" stroke="#500000" stroke-width="1.8"/>
<path d="M4.4,-15.8 L9.2,-20 L9.2,0" transform="translate(346.9,963.9)" stroke="#000" stroke-width="2.1" fill="none" stroke-linecap="round" stroke-linejoin="round"/>
<path d="M7.6,-20 C3,-18.4 0.2,-14 0.2,-6.2 C0.2,-2.4 2,0 4.7,0 C7.4,0 9.3,-2.4 9.3,-6 C9.3,-9.6 7.4,-12 4.7,-12 C2.5,-12 0.8,-10.6 0.3,-8.4" transform="translate(362.5,963.9)" stroke="#000" stroke-width="2.1" fill="none" stroke-linecap="round" stroke-linejoin="round"/>
<path d="M0.2,-17.6 L0.2,-20 L9.8,-20 L4.6,0" transform="translate(378.1,963.9)" stroke="#000" stroke-width="2.1" fill="none" stroke-linecap="round" stroke-linejoin="round"/>
<path d="M9,-20 L0.6,-20 L0.4,-11.8 L4.3,-11.8 C7.8,-11.8 9.6,-9.4 9.6,-6 C9.6,-2.4 7.6,0 4.3,0 L0.4,0" transform="translate(393.7,963.9)" stroke="#000" stroke-width="2.1" fill="none" stroke-linecap="round" stroke-linejoin="round"/>
<path d="M0.2,-15.4 C0.6,-18.6 2.6,-20 4.8,-20 C7.4,-20 9.2,-18 9.2,-15 C9.2,-11.5 6.5,-8 0,0 L9.4,0" transform="translate(840.8,963.6)" stroke="#000" stroke-width="2.1" fill="none" stroke-linecap="round" stroke-linejoin="round"/>
<path d="M0.2,-15.4 C0.6,-18.6 2.6,-20 4.8,-20 C7.4,-20 9.2,-18 9.2,-15 C9.2,-11.5 6.5,-8 0,0 L9.4,0" transform="translate(856.4,963.6)" stroke="#000" stroke-width="2.1" fill="none" stroke-linecap="round" stroke-linejoin="round"/>
<path d="M4.7,-20 C7.5,-20 9.4,-15.5 9.4,-10 C9.4,-4.5 7.5,0 4.7,0 C1.9,0 0,-4.5 0,-10 C0,-15.5 1.9,-20 4.7,-20 Z" transform="translate(872.0,963.6)" stroke="#000" stroke-width="2.1" fill="none" stroke-linecap="round" stroke-linejoin="round"/>
<path d="M4.7,-20 C7.5,-20 9.4,-15.5 9.4,-10 C9.4,-4.5 7.5,0 4.7,0 C1.9,0 0,-4.5 0,-10 C0,-15.5 1.9,-20 4.7,-20 Z" transform="translate(887.6,963.6)" stroke="#000" stroke-width="2.1" fill="none" stroke-linecap="round" stroke-linejoin="round"/>
<path d="M4.4,-15.8 L9.2,-20 L9.2,0" transform="translate(1343.8,963.9)" stroke="#000" stroke-width="2.1" fill="none" stroke-linecap="round" stroke-linejoin="round"/>
<path d="M0.2,-17.6 L0.2,-20 L9.8,-20 L4.6,0" transform="translate(1359.7,963.9)" stroke="#000" stroke-width="2.1" fill="none" stroke-linecap="round" stroke-linejoin="round"/>
<path d="M9.3,-14 C9.3,-17.6 7.4,-20 4.7,-20 C2,-20 0.1,-17.6 0.1,-14.3 C0.1,-10.9 2,-8.6 4.7,-8.6 C7.4,-8.6 9.3,-10.9 9.3,-14 L9.3,-12.5 C9.3,-5.5 6,-1 1.6,0.2" transform="translate(1375.6,963.9)" stroke="#000" stroke-width="2.1" fill="none" stroke-linecap="round" stroke-linejoin="round"/>
<path d="M4.7,-20 C7.5,-20 9.4,-15.5 9.4,-10 C9.4,-4.5 7.5,0 4.7,0 C1.9,0 0,-4.5 0,-10 C0,-15.5 1.9,-20 4.7,-20 Z" transform="translate(1391.5,963.9)" stroke="#000" stroke-width="2.1" fill="none" stroke-linecap="round" stroke-linejoin="round"/>
<path d="M9,-20 L0.6,-20 L0.4,-11.8 L4.3,-11.8 C7.8,-11.8 9.6,-9.4 9.6,-6 C9.6,-2.4 7.6,0 4.3,0 L0.4,0" transform="translate(854.9,1040.3)" stroke="#000" stroke-width="2.1" fill="none" stroke-linecap="round" stroke-linejoin="round"/>
<path d="M7.6,-20 C3,-18.4 0.2,-14 0.2,-6.2 C0.2,-2.4 2,0 4.7,0 C7.4,0 9.3,-2.4 9.3,-6 C9.3,-9.6 7.4,-12 4.7,-12 C2.5,-12 0.8,-10.6 0.3,-8.4" transform="translate(870.8,1040.3)" stroke="#000" stroke-width="2.1" fill="none" stroke-linecap="round" stroke-linejoin="round"/>
<path d="M7.6,-20 C3,-18.4 0.2,-14 0.2,-6.2 C0.2,-2.4 2,0 4.7,0 C7.4,0 9.3,-2.4 9.3,-6 C9.3,-9.6 7.4,-12 4.7,-12 C2.5,-12 0.8,-10.6 0.3,-8.4" transform="translate(886.7,1040.3)" stroke="#000" stroke-width="2.1" fill="none" stroke-linecap="round" stroke-linejoin="round"/>
<path d="M9,-20 L0.6,-20 L0.4,-11.8 L4.3,-11.8 C7.8,-11.8 9.6,-9.4 9.6,-6 C9.6,-2.4 7.6,0 4.3,0 L0.4,0" transform="translate(902.6,1040.3)" stroke="#000" stroke-width="2.1" fill="none" stroke-linecap="round" stroke-linejoin="round"/>
</g>
</svg>
</body></html>
